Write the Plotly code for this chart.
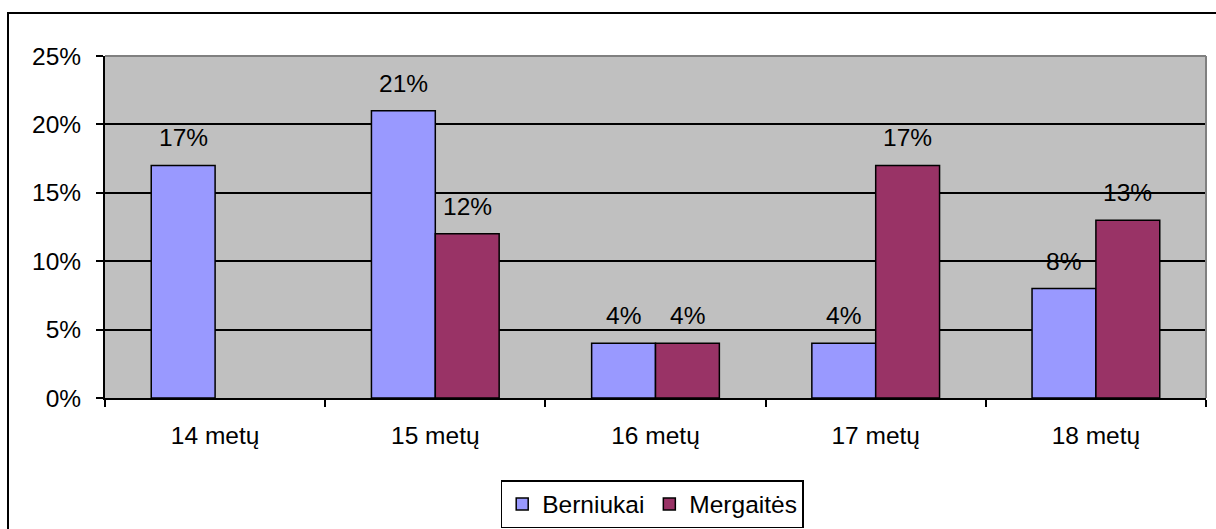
import plotly.graph_objects as go

categories = ["14 metų", "15 metų", "16 metų", "17 metų", "18 metų"]
berniukai = [17, 21, 4, 4, 8]
mergaites = [None, 12, 4, 17, 13]
series_names = ["Berniukai", "Mergaitės"]
y_ticks = [0, 5, 10, 15, 20, 25]
y_tick_labels = ["0%", "5%", "10%", "15%", "20%", "25%"]

FONT = "Liberation Sans, Arial, sans-serif"
FS = 24.5

W, H = 1216, 529
L, R, T, B = 105, 10, 56, 131

fig = go.Figure()
colors = ["#9999FF", "#993366"]
for name, vals, col in zip(series_names, [berniukai, mergaites], colors):
    fig.add_trace(go.Bar(
        x=categories, y=vals, name=name,
        marker=dict(color=col, line=dict(color="black", width=1.5)),
    ))

# data labels
offsets = [-32, 32]
for vals, off in zip([berniukai, mergaites], offsets):
    for c, v in zip(categories, vals):
        if v is None:
            continue
        fig.add_annotation(x=c, y=v, text=f"{v}%", showarrow=False,
                           xshift=off, yshift=12, yanchor="bottom",
                           font=dict(family=FONT, size=FS, color="black"))

pw = W - L - R
ph = H - T - B
# outer chart border (extends past right/bottom edge)
fig.add_shape(type="rect", xref="paper", yref="paper",
              x0=(8 - L) / pw, x1=(W + 20 - L) / pw,
              y0=-(H + 20 - (T + ph)) / ph, y1=(T + ph - 13) / ph,
              line=dict(color="black", width=2), fillcolor="rgba(0,0,0,0)", layer="below")
# plot area border top/right gray
fig.add_shape(type="line", xref="paper", yref="paper", x0=0, x1=1, y0=1, y1=1,
              line=dict(color="#808080", width=2))
fig.add_shape(type="line", xref="paper", yref="paper", x0=1, x1=1, y0=0, y1=1,
              line=dict(color="#808080", width=2))

fig.update_layout(
    width=W, height=H,
    margin=dict(l=L, r=R, t=T, b=B),
    paper_bgcolor="white", plot_bgcolor="#C0C0C0",
    barmode="group", bargap=0.42, bargroupgap=0,
    font=dict(family=FONT, size=FS, color="black"),
    showlegend=True,
    legend=dict(orientation="h", x=0.497, xanchor="center",
                yref="container", y=(H - 504) / H, yanchor="middle",
                bordercolor="black", borderwidth=1.5, bgcolor="white",
                font=dict(family=FONT, size=FS, color="black"),
                itemclick=False),
    xaxis=dict(type="category", showgrid=False, showline=True, linecolor="black", linewidth=2,
               ticks="outside", tickson="boundaries", ticklen=7, tickcolor="black", tickwidth=1.5,
               ticklabelstandoff=15, tickfont=dict(family=FONT, size=FS, color="black")),
    yaxis=dict(range=[0, 25], tickvals=y_ticks, ticktext=y_tick_labels,
               showgrid=True, gridcolor="black", gridwidth=1.5, zeroline=False,
               showline=True, linecolor="black", linewidth=2,
               ticks="outside", ticklen=7, tickcolor="black", tickwidth=1.5,
               ticklabelstandoff=10, tickfont=dict(family=FONT, size=FS, color="black")),
)

fig.write_html("out.html", config={"displayModeBar": False},
               post_script="document.body.style.margin='0';document.body.style.overflow='hidden';")
